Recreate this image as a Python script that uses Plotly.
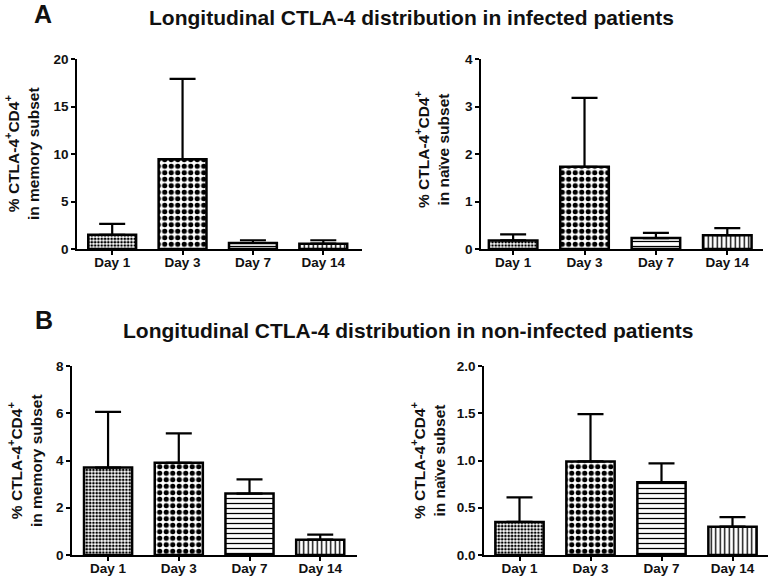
"""Longitudinal CTLA-4 distribution, four bar panels with upper SD whiskers."""

import plotly.graph_objects as go

# ---- data ----
days = ["Day 1", "Day 3", "Day 7", "Day 14"]

inf_memory_mean = [1.50, 9.45, 0.63, 0.56]
inf_memory_sd = [1.14, 8.45, 0.29, 0.36]

inf_naive_mean = [0.18, 1.73, 0.23, 0.29]
inf_naive_sd = [0.13, 1.45, 0.11, 0.15]

non_memory_mean = [3.70, 3.90, 2.60, 0.65]
non_memory_sd = [2.36, 1.25, 0.60, 0.21]

non_naive_mean = [0.35, 0.99, 0.77, 0.30]
non_naive_sd = [0.26, 0.50, 0.20, 0.10]

# fill pattern per day (fine check, coarse check, horizontal, vertical)
pattern_shapes = [".", ".", "-", "|"]
pattern_sizes = [3.3, 6.5, 5, 4.5]
pattern_solidity = [0.5, 0.5, 0.25, 0.3]

FONT = "Liberation Sans, Arial, sans-serif"
W, H = 770, 579


def px_x(p):
    return p / W


def px_y(p):
    return 1 - p / H


fig = go.Figure()

# panel: means, sds, axis id, x px span, y px span (zero, top), y range, dtick, tickformat, x range
panels = [
    (inf_memory_mean, inf_memory_sd, "", (77, 362), (249, 59), [0, 20], 5, None, [-0.5, 3.55]),
    (inf_naive_mean, inf_naive_sd, "2", (481, 763), (249, 59), [0, 4], 1, None, [-0.45, 3.5]),
    (non_memory_mean, non_memory_sd, "3", (72, 357), (555, 366), [0, 8], 2, None, [-0.51, 3.52]),
    (non_naive_mean, non_naive_sd, "4", (484, 768), (555, 366), [0, 2], 0.5, ".1f", [-0.5, 3.5]),
]

layout_axes = {}
for means, sds, ax, xd, yd, yr, dt, tf, xr in panels:
    fig.add_trace(
        go.Bar(
            x=days,
            y=means,
            xaxis="x" + ax,
            yaxis="y" + ax,
            width=0.68,
            marker=dict(
                color="white",
                line=dict(color="black", width=2.5),
                pattern=dict(
                    shape=pattern_shapes,
                    size=pattern_sizes,
                    solidity=pattern_solidity,
                    fgcolor="black",
                    bgcolor="white",
                    fillmode="replace",
                ),
            ),
            error_y=dict(
                type="data",
                symmetric=False,
                array=sds,
                arrayminus=[0] * len(sds),
                color="black",
                thickness=2.2,
                width=13,
            ),
            showlegend=False,
            hoverinfo="skip",
        )
    )
    common = dict(
        showline=True,
        linecolor="black",
        linewidth=1.5,
        showgrid=False,
        zeroline=False,
        ticks="outside",
        ticklen=4,
        tickwidth=1.5,
        tickcolor="black",
        tickfont=dict(family=FONT, size=13.5, color="#111111", weight="bold"),
        automargin=False,
        fixedrange=True,
    )
    layout_axes["xaxis" + ax] = dict(
        common,
        domain=[px_x(xd[0]), px_x(xd[1])],
        anchor="y" + ax,
        range=xr,
        type="category",
        ticklabelstandoff=-4,
    )
    yaxis = dict(
        common,
        domain=[px_y(yd[0]), px_y(yd[1])],
        anchor="x" + ax,
        range=yr,
        dtick=dt,
        tick0=0,
    )
    if tf:
        yaxis["tickformat"] = tf
    layout_axes["yaxis" + ax] = yaxis

fig.update_layout(**layout_axes)

# ---- titles and axis labels ----
bold = dict(family=FONT, color="#111111", weight="bold")
annotations = [
    dict(text="A", x=px_x(43), y=px_y(14), font=dict(bold, size=25)),
    dict(text="Longitudinal CTLA-4 distribution in infected patients",
         x=px_x(411), y=px_y(17), font=dict(bold, size=21)),
    dict(text="B", x=px_x(44), y=px_y(320), font=dict(bold, size=25)),
    dict(text="Longitudinal CTLA-4 distribution in non-infected patients",
         x=px_x(408), y=px_y(330), font=dict(bold, size=21)),
]
ylabels = [
    ("in memory subset", 22, 154),
    ("in naïve subset", 432, 150),
    ("in memory subset", 25, 461),
    ("in naïve subset", 428, 461),
]
for sub, xp, yp in ylabels:
    annotations.append(
        dict(
            text="% CTLA-4<sup>+</sup>CD4<sup>+</sup><br>" + sub,
            x=px_x(xp),
            y=px_y(yp),
            textangle=-90,
            font=dict(bold, size=15.5),
        )
    )
for a in annotations:
    a.update(xref="paper", yref="paper", showarrow=False, xanchor="center", yanchor="middle")

fig.update_layout(
    annotations=annotations,
    width=W,
    height=H,
    margin=dict(l=0, r=0, t=0, b=0, autoexpand=False),
    paper_bgcolor="white",
    plot_bgcolor="white",
)

# page body has a default 8px margin; drop it so the figure sits at the window origin
fig.write_html(
    "out.html",
    config={"displayModeBar": False},
    post_script="document.body.style.margin='0';",
)
